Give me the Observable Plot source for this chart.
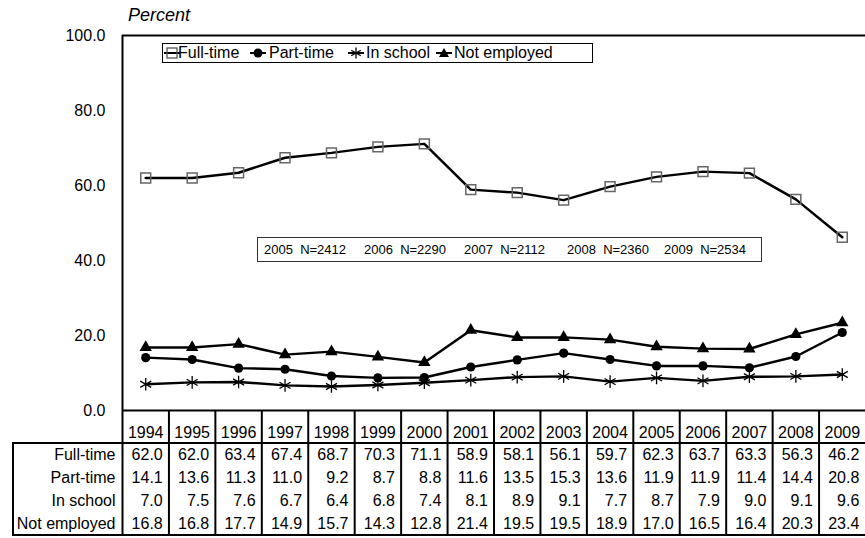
<!DOCTYPE html>
<html>
<head>
<meta charset="utf-8">
<script src="https://cdn.jsdelivr.net/npm/d3@7"></script>
<script src="https://cdn.jsdelivr.net/npm/@observablehq/plot@0.6"></script>
<style>
  body { margin: 0; background: #fff; font-family: Arial, "Liberation Sans", sans-serif; color: #000; }
  #wrap { position: relative; width: 865px; height: 538px; overflow: hidden; background: #fff; }
  #wrap > * { position: absolute; }
  .pct { left: 128px; top: 5px; font-size: 18px; font-style: italic; line-height: 20px; }
  .legend { left: 162px; top: 43px; width: 431px; height: 20px; border: 1px solid #000; box-sizing: border-box; background: #fff; font-size: 16px; }
  .legend span { position: absolute; top: 0; line-height: 18px; white-space: nowrap; }
  .legend svg { position: absolute; top: 1px; }
  .nbox { left: 257px; top: 237px; width: 505px; height: 25px; border: 1px solid #333; box-sizing: border-box; background: #fff; font-size: 13px; }
  .nbox span { position: absolute; top: 0; line-height: 23px; white-space: pre; }
  .tblbox { left: 12px; top: 442px; width: 853px; height: 94px; border-top: 2px solid #000; border-left: 2px solid #000; border-bottom: 2px solid #000; box-sizing: border-box; }
</style>
</head>
<body>
<div id="wrap"></div>
<script>
// ---- data ----
const years = [1994, 1995, 1996, 1997, 1998, 1999, 2000, 2001, 2002, 2003, 2004, 2005, 2006, 2007, 2008, 2009];
const seriesNames = ["Full-time", "Part-time", "In school", "Not employed"];
const fullTime    = [62.0, 62.0, 63.4, 67.4, 68.7, 70.3, 71.1, 58.9, 58.1, 56.1, 59.7, 62.3, 63.7, 63.3, 56.3, 46.2];
const partTime    = [14.1, 13.6, 11.3, 11.0, 9.2, 8.7, 8.8, 11.6, 13.5, 15.3, 13.6, 11.9, 11.9, 11.4, 14.4, 20.8];
const inSchool    = [7.0, 7.5, 7.6, 6.7, 6.4, 6.8, 7.4, 8.1, 8.9, 9.1, 7.7, 8.7, 7.9, 9.0, 9.1, 9.6];
const notEmployed = [16.8, 16.8, 17.7, 14.9, 15.7, 14.3, 12.8, 21.4, 19.5, 19.5, 18.9, 17.0, 16.5, 16.4, 20.3, 23.4];
const yTicks = [0, 20, 40, 60, 80, 100];
const nYears = [2005, 2006, 2007, 2008, 2009];
const nValues = [2412, 2290, 2112, 2360, 2534];

// ---- build tidy rows ----
const seriesValues = [fullTime, partTime, inSchool, notEmployed];
const rows = [];
seriesNames.forEach((s, i) => years.forEach((y, j) => rows.push({series: s, year: y, value: seriesValues[i][j]})));
const bySeries = s => rows.filter(d => d.series === s);
const boundaries = [years[0] - 0.5, ...years.slice(0, -1).map(y => y + 0.5)];
const xDomain = [years[0] - 0.5, years[years.length - 1] + 0.5];
const font = 'Arial, "Liberation Sans", sans-serif';

const wrap = document.getElementById("wrap");

// ---- main chart ----
const chart = Plot.plot({
  width: 865, height: 442,
  marginLeft: 122, marginRight: 0, marginTop: 35, marginBottom: 32,
  style: {fontFamily: font, fontSize: "16px", color: "#000", background: "transparent", overflow: "visible"},
  x: {domain: xDomain},
  y: {domain: [0, 100]},
  marks: [
    Plot.axisY({ticks: yTicks, tickFormat: d => d.toFixed(1), tickSize: 0, tickPadding: 17, fontSize: 16, label: null}),
    Plot.axisX({ticks: years, tickFormat: d => String(d), tickSize: 0, tickPadding: 16, fontSize: 16, label: null}),
    Plot.axisX({ticks: boundaries, tickFormat: () => "", tickSize: 32, strokeWidth: 2, stroke: "#000", label: null}),
    Plot.ruleY([0, 100], {stroke: "#000", strokeWidth: 2}),
    Plot.ruleX([xDomain[0]], {stroke: "#000", strokeWidth: 2}),
    Plot.line(rows, {x: "year", y: "value", z: "series", curve: "linear", stroke: "#000", strokeWidth: 2.5, strokeLinejoin: "round"}),
    Plot.dot(bySeries("Full-time"), {x: "year", y: "value", symbol: "square", r: 5.6, fill: "none", stroke: "#666", strokeWidth: 1.5}),
    Plot.dot(bySeries("Part-time"), {x: "year", y: "value", symbol: "circle", r: 4.6, fill: "#000", stroke: "none"}),
    Plot.dot(bySeries("In school"), {x: "year", y: "value", symbol: "asterisk", r: 6, fill: "none", stroke: "#000", strokeWidth: 1.3}),
    Plot.dot(bySeries("Not employed"), {x: "year", y: "value", symbol: "triangle", r: 4.6, fill: "#000", stroke: "none"})
  ]
});
chart.style.left = "0px";
chart.style.top = "0px";
wrap.appendChild(chart);

// ---- data table ----
const tblbox = document.createElement("div");
tblbox.className = "tblbox";
wrap.appendChild(tblbox);

const table = Plot.plot({
  width: 865, height: 94,
  marginLeft: 122, marginRight: 0, marginTop: 0, marginBottom: 0,
  style: {fontFamily: font, fontSize: "16px", color: "#000", background: "transparent", overflow: "visible"},
  x: {domain: xDomain, axis: null},
  y: {type: "band", domain: seriesNames, padding: 0},
  marks: [
    Plot.axisY({tickSize: 0, tickPadding: 7, fontSize: 16, label: null}),
    Plot.ruleX(boundaries, {stroke: "#000", strokeWidth: 2}),
    Plot.text(rows, {x: "year", y: "series", text: d => d.value.toFixed(1), textAnchor: "end", dx: 17, fontSize: 16, fill: "#000"})
  ]
});
table.style.left = "0px";
table.style.top = "442px";
wrap.appendChild(table);

// ---- "Percent" label ----
const pct = document.createElement("div");
pct.className = "pct";
pct.textContent = "Percent";
wrap.appendChild(pct);

// ---- legend ----
const legend = document.createElement("div");
legend.className = "legend";
const icon = (marker) => `<svg width="16" height="16" viewBox="-8 -8 16 16" style="overflow:visible">
  <line x1="-8" x2="8" y1="0" y2="0" stroke="#000" stroke-width="2"/>${marker}</svg>`;
const markers = {
  "Full-time": `<rect x="-5" y="-5" width="10" height="10" fill="none" stroke="#555" stroke-width="1.3"/>`,
  "Part-time": `<circle r="4.5" fill="#000"/>`,
  "In school": `<path d="M0,-5.5V5.5M-4.8,-2.75L4.8,2.75M-4.8,2.75L4.8,-2.75" stroke="#000" stroke-width="1.3" fill="none"/>`,
  "Not employed": `<path d="M0,-5L5,4H-5Z" fill="#000"/>`
};
const legendPos = [[1, 15], [87, 106], [185, 203], [273, 291]];
seriesNames.forEach((s, i) => {
  const ic = document.createElement("div");
  ic.innerHTML = icon(markers[s]);
  const svg = ic.firstElementChild;
  svg.style.left = legendPos[i][0] + "px";
  legend.appendChild(svg);
  const t = document.createElement("span");
  t.textContent = s;
  t.style.left = legendPos[i][1] + "px";
  legend.appendChild(t);
});
wrap.appendChild(legend);

// ---- sample size box ----
const nbox = document.createElement("div");
nbox.className = "nbox";
const nPos = [6, 106, 206, 309, 406];
nYears.forEach((y, i) => {
  const t = document.createElement("span");
  t.textContent = `${y}  N=${nValues[i]}`;
  t.style.left = nPos[i] + "px";
  nbox.appendChild(t);
});
wrap.appendChild(nbox);
</script>
</body>
</html>
